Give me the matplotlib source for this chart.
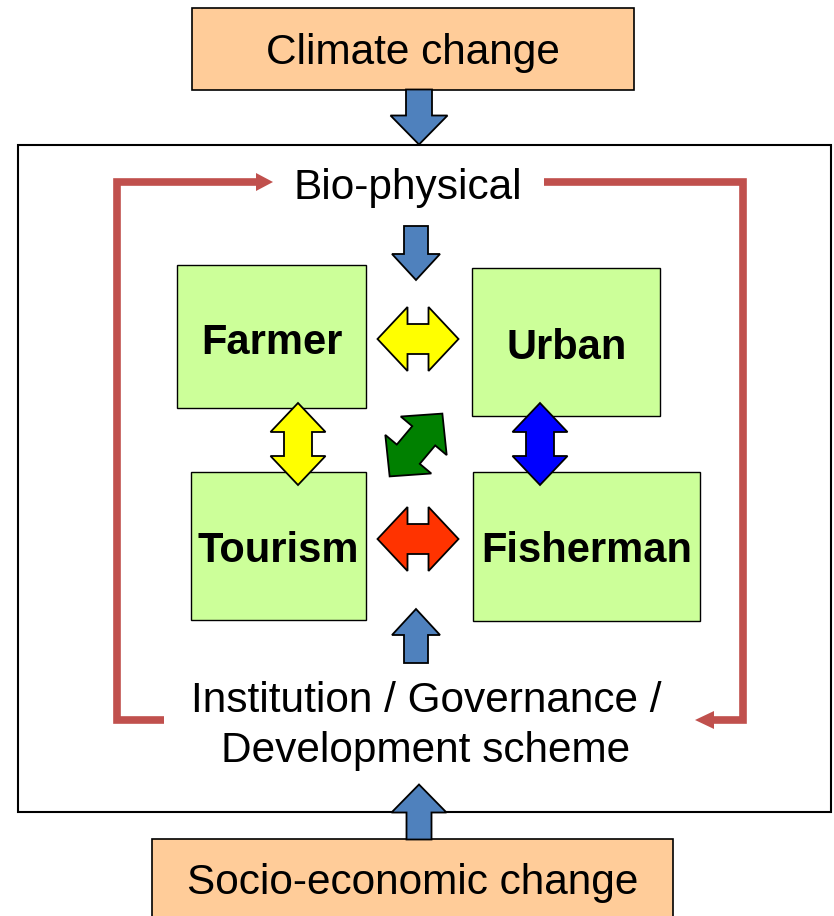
import numpy as np
import matplotlib
matplotlib.use('Agg')
import matplotlib.pyplot as plt
from matplotlib.patches import Rectangle, Polygon

plt.rcParams['font.family'] = ['Liberation Sans', 'DejaVu Sans']

# diagram content
driver_labels = ['Climate change', 'Socio-economic change']
actor_labels = ['Farmer', 'Urban', 'Tourism', 'Fisherman']
layer_labels = ['Bio-physical', 'Institution / Governance /\nDevelopment scheme']

# layout in pixel units (x right, y down)
W, H = 834, 916
driver_boxes = [(192, 8, 442, 82), (152, 839, 521, 90)]
actor_boxes = [(177, 265, 189, 143), (472, 268, 188, 148),
               (191, 472, 175, 148), (473, 472, 227, 149)]
actor_text = [(272, 343), (567, 348), (278, 551), (587, 551)]

PEACH = '#FFCC99'
LIGHTGREEN = '#CCFF99'
STEEL = '#4F81BD'
BRICK = '#C0504D'


def block_arrow(ax, cx, cy, length, head_w, shaft_w, head_len, angle,
                color, double=False):
    # arrow along +x in local coords, centred at origin, then rotated
    L = length / 2.0
    hw, sw = head_w / 2.0, shaft_w / 2.0
    if double:
        pts = [(L, 0), (L - head_len, hw), (L - head_len, sw),
               (-L + head_len, sw), (-L + head_len, hw), (-L, 0),
               (-L + head_len, -hw), (-L + head_len, -sw),
               (L - head_len, -sw), (L - head_len, -hw)]
    else:
        pts = [(L, 0), (L - head_len, hw), (L - head_len, sw),
               (-L, sw), (-L, -sw), (L - head_len, -sw),
               (L - head_len, -hw)]
    pts = np.array(pts)
    a = np.deg2rad(angle)
    rot = np.array([[np.cos(a), -np.sin(a)], [np.sin(a), np.cos(a)]])
    pts = pts @ rot.T
    # y axis points down on screen, so flip rotation sign
    pts[:, 1] = -pts[:, 1]
    pts += [cx, cy]
    ax.add_patch(Polygon(pts, closed=True, facecolor=color,
                         edgecolor='black', linewidth=1.3, zorder=4))


fig = plt.figure(figsize=(W / 100, H / 100), dpi=100)
ax = fig.add_axes([0, 0, 1, 1])
ax.set_xlim(0, W)
ax.set_ylim(H, 0)
ax.axis('off')

# main frame
ax.add_patch(Rectangle((18, 145), 813, 667, facecolor='white',
                       edgecolor='black', linewidth=1.5, zorder=1))

# driver boxes
for (x, y, w, h), lab in zip(driver_boxes, driver_labels):
    ax.add_patch(Rectangle((x, y), w, h, facecolor=PEACH,
                           edgecolor='black', linewidth=1.2, zorder=2))
ty = [53, 883]
for (x, y, w, h), lab, yy in zip(driver_boxes, driver_labels, ty):
    ax.text(x + w / 2, yy, lab, ha='center', va='center', fontsize=30.5,
            zorder=5)

# actor boxes
for (x, y, w, h), lab, (tx, tyy) in zip(actor_boxes, actor_labels, actor_text):
    ax.add_patch(Rectangle((x, y), w, h, facecolor=LIGHTGREEN,
                           edgecolor='black', linewidth=1.0, zorder=2))
    ax.text(tx, tyy, lab, ha='center', va='center', fontsize=30,
            fontweight='bold', zorder=5)

# layer labels
ax.text(408, 188, layer_labels[0], ha='center', va='center', fontsize=30.5)
ax.text(426, 726, layer_labels[1], ha='center', va='center', fontsize=30.5,
        linespacing=1.3)

# red feedback loop
lw = 5.5
ax.plot([164, 117, 117, 258], [720, 720, 182, 182], color=BRICK, lw=lw,
        solid_joinstyle='miter', solid_capstyle='butt', zorder=3)
ax.add_patch(Polygon([(256, 173), (273, 182), (256, 191)], closed=True,
                     facecolor=BRICK, edgecolor='none', zorder=3))
ax.plot([544, 743, 743, 712], [182, 182, 720, 720], color=BRICK, lw=lw,
        solid_joinstyle='miter', solid_capstyle='butt', zorder=3)
ax.add_patch(Polygon([(714, 711), (695, 720), (714, 729)], closed=True,
                     facecolor=BRICK, edgecolor='none', zorder=3))

# blue single arrows
block_arrow(ax, 419, 117, 55, 57, 26, 29, -90, STEEL)
block_arrow(ax, 416, 253, 54, 48, 24, 26, -90, STEEL)
block_arrow(ax, 416, 636, 54, 48, 24, 26, 90, STEEL)
block_arrow(ax, 419, 812, 55, 55, 25, 28, 90, STEEL)

# interaction double arrows
block_arrow(ax, 418, 339, 81, 64, 30, 30, 0, '#FFFF00', double=True)
block_arrow(ax, 298, 444, 82, 55, 28, 29, 90, '#FFFF00', double=True)
block_arrow(ax, 540, 444, 82, 55, 28, 29, 90, '#0000FF', double=True)
block_arrow(ax, 416, 445, 82, 60, 30, 29, 50, '#008000', double=True)
block_arrow(ax, 418, 539, 81, 64, 30, 30, 0, '#FF3300', double=True)

fig.savefig('out.png', dpi=100)
